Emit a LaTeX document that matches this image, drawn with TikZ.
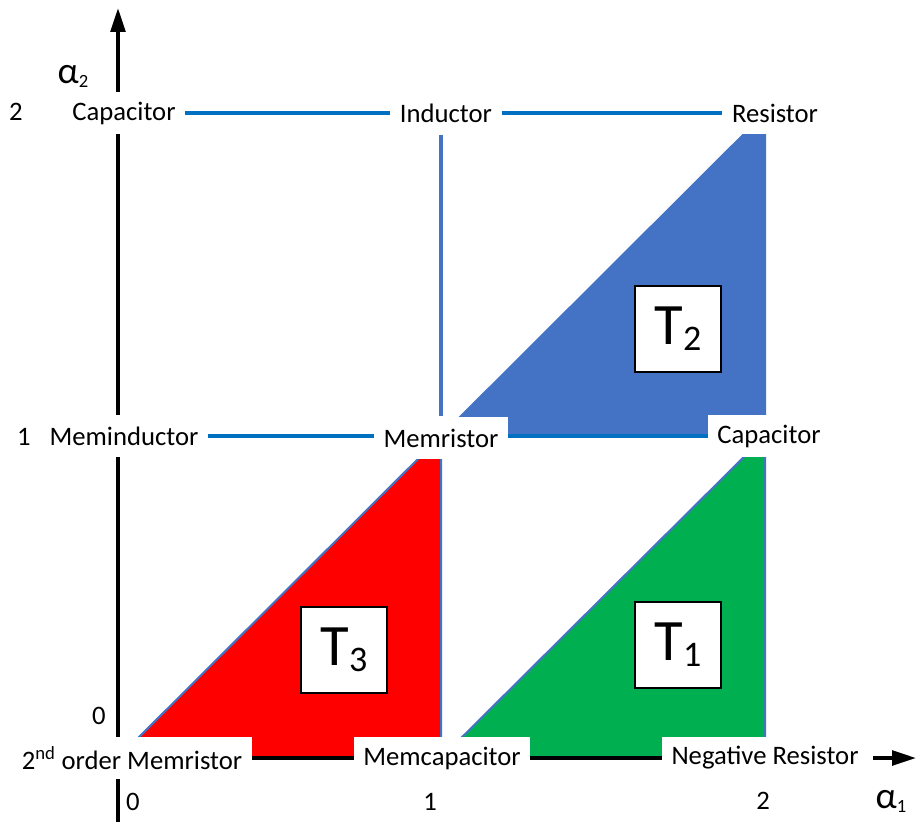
\documentclass[tikz,border=0pt]{standalone}
\usepackage{fontspec}
\setmainfont{Carlito}
\usetikzlibrary{arrows.meta,positioning,backgrounds}
\definecolor{tBlue}{RGB}{68,114,196}
\definecolor{tGreen}{RGB}{0,176,80}
\definecolor{tRed}{RGB}{255,0,0}
\definecolor{lBlue}{RGB}{0,112,192}
\newcommand{\Tsub}[1]{\raisebox{-4.5pt}{\fontsize{27}{30}\selectfont #1}}
\newcommand{\Asub}[1]{\raisebox{-3pt}{\fontsize{14}{16}\selectfont #1}}

\begin{document}
\begin{tikzpicture}[
			x=0.75pt,y=-0.75pt,
			>={Triangle[length=18pt,width=11pt]},
			lbl/.style={
				fill=white,
				font=\fontsize{20}{24}\selectfont,
				inner xsep=7pt,
				inner ysep=0pt,
				minimum height=32pt
			},
			num/.style={
				font=\fontsize{20}{24}\selectfont,
				inner sep=0pt
			},
			axn/.style={
				font=\fontsize{28}{30}\selectfont,
				inner sep=0pt
			},
			tbox/.style={
				draw=black,
				fill=white,
				line width=0.8pt,
				minimum size=64.5pt,
				inner sep=0pt,
				font=\fontsize{44}{50}\selectfont
			},
			ax/.style={->,line width=2.8pt},
			hl/.style={lBlue,line width=2.5pt},
			bl/.style={black,line width=2.8pt},
			tri/.style={draw=tBlue,line width=1.5pt}
			]
			% labels on the grid
			\node[lbl](cap2) at (124,113){Capacitor};
			\node[lbl](ind) at (446,113){Inductor};
			\node[lbl](res) at (775,113){Resistor};
			\node[lbl](memind) at (124,436){Meminductor};
			\node[lbl](memr) at (441,438){Memristor};
			\node[lbl](cap1) at (769,436){Capacitor};
			\node[lbl](mem2) at (132,758){2\textsuperscript{nd} order Memristor};
			\node[lbl](memc) at (442,758){Memcapacitor};
			\node[lbl](negr) at (765,758){Negative Resistor};
			% ticks and axis names
			\node[num](y2) at (16,112){2};
			\node[num](y1) at (24,437){1};
			\node[num](y0) at (99,716){0};
			\node[num](x0) at (133,802){0};
			\node[num](x1) at (430,802){1};
			\node[num](x2) at (763,801){2};
			\node[axn](a2) at (73,76){α\Asub{2}};
			\node[axn](a1) at (891,801){α\Asub{1}};
			\coordinate(ytip) at (118,8);
			\coordinate(xtip) at (916,758);
			% regions
			\node[tbox](t2) at (678,329){T\Tsub{2}};
			\node[tbox](t3) at (344,650){T\Tsub{3}};
			\node[tbox](t1) at (678,645){T\Tsub{1}};
			\begin{scope}[on background layer]
				\fill[white](0,0) rectangle (919,823);
				\filldraw[tri,fill=tRed](118,758)--(441,436)--(441,758)--cycle;
				\filldraw[tri,fill=tGreen](441,758)--(765,436)--(765,758)--cycle;
				\filldraw[tri,fill=tBlue](441,436)--(765,113)--(765,436)--cycle;
				\draw[ax](118,822)--(ytip);
			\end{scope}
			\draw[hl](cap2)--(ind);
			\draw[hl](ind)--(res);
			\draw[hl](memind.east)--(memind.east-|memr.west);
			\draw[hl](memr.east|-cap1.west)--(cap1.west);
			\draw[hl,tBlue](memr.north)--(memr.north|-ind.south);
			\draw[bl](mem2)--(memc);
			\draw[bl](memc)--(negr);
			\draw[ax]([xshift=4pt]negr.east)--(xtip);
		\end{tikzpicture}
\end{document}
